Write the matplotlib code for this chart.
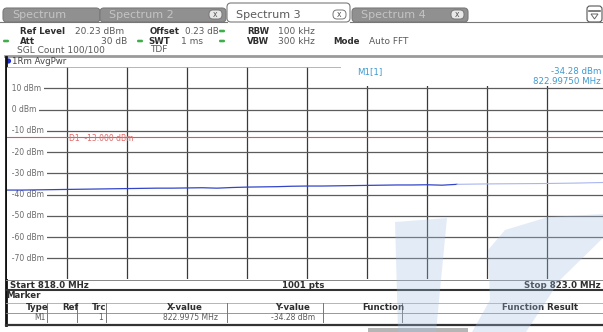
import matplotlib
matplotlib.use("Agg")
from matplotlib import pyplot as plt
from matplotlib.patches import Rectangle, FancyBboxPatch, Polygon, Circle
from matplotlib.transforms import offset_copy

# trace 1 (AvgPwr)
freq_mhz = [818.0, 818.125, 818.25, 818.375, 818.5, 818.625, 818.75, 818.875,
            819.0, 819.125, 819.25, 819.375, 819.5, 819.625, 819.75, 819.875,
            820.0, 820.125, 820.25, 820.375, 820.5, 820.625, 820.75, 820.875,
            821.0, 821.125, 821.25, 821.375, 821.5, 821.625, 821.75]
avg_pwr_dbm = [-37.9, -37.9, -37.8, -37.7, -37.6, -37.5, -37.4, -37.3,
               -37.2, -37.1, -37.0, -37.0, -36.9, -36.8, -37.0, -36.7,
               -36.5, -36.4, -36.3, -36.1, -36.0, -36.0, -35.9, -35.8,
               -35.7, -35.6, -35.5, -35.5, -35.4, -35.6, -35.2]
# part of the sweep still being refreshed (drawn lighter)
tail_freq_mhz = [821.75, 822.0, 822.25, 822.5, 822.75, 823.0]
tail_pwr_dbm = [-35.2, -35.0, -34.9, -34.8, -34.6, -34.3]

ref_level = 20.23
range_db = 100
start_mhz, stop_mhz = 818.0, 823.0
x_grid_mhz = [818.5, 819.0, 819.5, 820.0, 820.5, 821.0, 821.5, 822.0, 822.5]
y_grid_dbm = [10, 0, -10, -20, -30, -40, -50, -60, -70]
d1_dbm = -13.0
marker_freq = 822.9975
marker_pwr = -34.28

tab_names = ["Spectrum", "Spectrum 2", "Spectrum 3", "Spectrum 4"]
col_edges = [5, 47, 77, 106, 227, 323, 402, 603]
table_headers = ["Type", "Ref", "Trc", "X-value", "Y-value", "Function", "Function Result"]

W, H = 603, 332
DARK = "#2e2e2e"
GREY = "#5a5a5a"
BLUE_TXT = "#3d9ad1"
FONT = "DejaVu Sans"

plt.rcParams["font.family"] = FONT
fig = plt.figure(figsize=(W / 100, H / 100), dpi=100)
fig.patch.set_facecolor("white")

# background layer in pixel coordinates
bg = fig.add_axes([0, 0, 1, 1], zorder=0)
bg.set_xlim(0, W)
bg.set_ylim(H, 0)
bg.axis("off")


def txt(ax, x, y, s, size=6.2, color=DARK, bold=False, ha="left", **kw):
    ax.text(x, y, s, fontsize=size, color=color, ha=ha, va="center",
            fontweight="bold" if bold else "normal", **kw)


# tabs
tab_boxes = [(3, 100), (100, 226), (227, 350), (352, 468)]
for i, (name, (x0, x1)) in enumerate(zip(tab_names, tab_boxes)):
    active = name == "Spectrum 3"
    top = 3 if active else 8
    bg.add_patch(FancyBboxPatch((x0, top), x1 - x0, 22 - top,
                                boxstyle="round,pad=0,rounding_size=4",
                                fc="white" if active else "#909090",
                                ec="#7a7a7a", lw=0.8))
    txt(bg, x0 + 9, 15, name, size=8,
        color="#5a5a5a" if active else "#c4c4c4")
    if i > 0:
        cx = x1 - 17
        bg.add_patch(FancyBboxPatch((cx, 10), 13, 9, boxstyle="round,pad=0,rounding_size=4",
                                    fc="white" if active else "#e8e8e8",
                                    ec="#777777", lw=0.7))
        txt(bg, cx + 6.5, 14.5, "x", size=5.5, color="#555555", ha="center")
bg.plot([0, 227], [22, 22], color="#777777", lw=0.8)
bg.plot([350, W], [22, 22], color="#777777", lw=0.8)
bg.add_patch(FancyBboxPatch((587, 6), 15, 16, boxstyle="round,pad=0,rounding_size=3",
                            fc="white", ec="#555555", lw=0.8))
bg.plot([589, 600], [11, 11], color="#666666", lw=1.2)
bg.add_patch(Polygon([(591, 14), (598, 14), (594.5, 19)], closed=True,
                     fc="white", ec="#666666", lw=0.7))

# setting lines
green = "#3fae49"
txt(bg, 20, 31, "Ref Level", bold=True)
txt(bg, 75, 31, "20.23 dBm", color=GREY, size=6.5)
txt(bg, 150, 31, "Offset", bold=True)
txt(bg, 185, 31, "0.23 dB", color=GREY, size=6.3)
txt(bg, 247, 31, "RBW", bold=True)
txt(bg, 278, 31, "100 kHz", color=GREY, size=6.5)
txt(bg, 20, 41, "Att", bold=True)
txt(bg, 127, 41, "30 dB", color=GREY, ha="right", size=6.5)
txt(bg, 148, 41, "SWT", bold=True)
txt(bg, 203, 41, "1 ms", color=GREY, ha="right", size=6.5)
txt(bg, 247, 41, "VBW", bold=True)
txt(bg, 278, 41, "300 kHz", color=GREY, size=6.5)
txt(bg, 333, 41, "Mode", bold=True)
txt(bg, 369, 41, "Auto FFT", color=GREY, size=6.5)
txt(bg, 17, 50, "SGL Count 100/100", color=GREY, size=6.5)
txt(bg, 150, 50, "TDF", color=GREY, size=6.5)
for gx, gy in [(222, 31), (6, 41), (140, 41), (222, 41)]:
    bg.add_patch(FancyBboxPatch((gx - 3, gy - 1.3), 6, 2.6, boxstyle="round,pad=0,rounding_size=1.2",
                                fc=green, ec="none"))

bg.plot([5, W], [56, 56], color="#9a9a9a", lw=2)
bg.add_patch(Circle((8.5, 61), 2.6, fc="#1f2fd0", ec="none"))
txt(bg, 12, 61, "1Rm AvgPwr", color="#444444")
bg.plot([6, 6], [57, 325], color="#111111", lw=2)

# bottom bar + marker table
bg.plot([6, W], [279.5, 279.5], color="#888888", lw=0.7)
bg.plot([6, W], [290, 290], color="#333333", lw=1.5)
txt(bg, 10, 285, "Start 818.0 MHz", bold=True)
txt(bg, 303, 285, "1001 pts", bold=True, ha="center")
txt(bg, 601, 285, "Stop 823.0 MHz", bold=True, ha="right")
txt(bg, 6, 296, "Marker", bold=True)
bg.plot([6, W], [302.5, 302.5], color="#aaaaaa", lw=0.6)
bg.plot([6, W], [312.5, 312.5], color="#888888", lw=0.6)
bg.plot([6, W], [325, 325], color="#333333", lw=1.6)
for xe in col_edges[1:-1]:
    bg.plot([xe, xe], [303, 322], color="#777777", lw=0.7)
for h, a, b in zip(table_headers, col_edges[:-1], col_edges[1:]):
    txt(bg, (a + b) / 2, 307.5, h, bold=True)
txt(bg, 40, 318, "M1", color=GREY, size=5.5, ha="center")
txt(bg, 103, 318, "1", color=GREY, size=5.5, ha="right")
txt(bg, 218, 318, "822.9975 MHz", color=GREY, size=5.5, ha="right")
txt(bg, 315, 318, "-34.28 dBm", color=GREY, size=5.5, ha="right")
bg.add_patch(Rectangle((368, 328), 100, 4, fc="#b5b5b5", ec="none"))

# diagram area
top_px, bot_px, left_px, right_px = 66.6, 279, 7, 607
ax = fig.add_axes([left_px / W, 1 - bot_px / H, (right_px - left_px) / W, (bot_px - top_px) / H],
                  zorder=1)
ax.set_xlim(start_mhz, stop_mhz)
ax.set_ylim(ref_level - range_db, ref_level)
ax.set_xticks([])
ax.set_yticks([])
for s in ax.spines.values():
    s.set_visible(False)
ax.spines["top"].set_visible(True)
ax.spines["top"].set_color("#aaaaaa")
ax.spines["top"].set_linewidth(0.6)

for x in x_grid_mhz:
    ax.axvline(x, color="#3a3a3a", lw=0.9, zorder=1)
for y in y_grid_dbm:
    ax.axhline(y, color="#5c5c5c", lw=0.9, zorder=1)
    ax.text(0.0, y, f"  {y} dBm ", transform=ax.get_yaxis_transform(), fontsize=5.5,
            color="#6a6a6a", va="center", ha="left", zorder=2,
            bbox=dict(fc="white", ec="none", pad=0.3))

ax.axhline(d1_dbm, color="#e25555", lw=0.8, zorder=2)
ax.text(818.52, d1_dbm - 0.8, "D1  -13.000 dBm", fontsize=5.5, color="#e06a6a",
        va="center", ha="left", zorder=3)

# marker readout box covers the grid
ax.add_patch(Rectangle((820.78, 11.2), stop_mhz - 820.78, ref_level - 11.2,
                       fc="white", ec="none", zorder=3))

ax.plot(freq_mhz, avg_pwr_dbm, color="#3346c8", lw=0.9, zorder=4)
ax.plot(tail_freq_mhz, tail_pwr_dbm, color="#a9b6ee", lw=0.8, zorder=4)
mk = offset_copy(ax.transData, fig=fig, x=0, y=7, units="points")
ax.plot([marker_freq], [marker_pwr], marker="v", ms=3.5, color="#2f7fd0",
        transform=mk, zorder=5, clip_on=False)

# overlay layer: marker readout + watermark
fg = fig.add_axes([0, 0, 1, 1], zorder=2)
fg.set_xlim(0, W)
fg.set_ylim(H, 0)
fg.axis("off")
fg.patch.set_alpha(0)
txt(fg, 357, 72, "M1[1]", color=BLUE_TXT)
txt(fg, 601, 72, f"{marker_pwr:.2f} dBm", color=BLUE_TXT, ha="right")
txt(fg, 601, 81, f"{marker_freq:.5f} MHz", color=BLUE_TXT, ha="right")

wm = "#a3c2e4"
fg.add_patch(Polygon([(395, 222), (447, 218), (436, 332), (398, 332)], closed=True,
                     fc=wm, ec="none", alpha=0.3))
fg.add_patch(Polygon([(472, 332), (526, 332), (560, 280), (603, 238), (603, 214),
                      (548, 217), (505, 230), (488, 250), (490, 300)], closed=True,
                     fc=wm, ec="none", alpha=0.3))

fig.savefig("out.png", dpi=100)
